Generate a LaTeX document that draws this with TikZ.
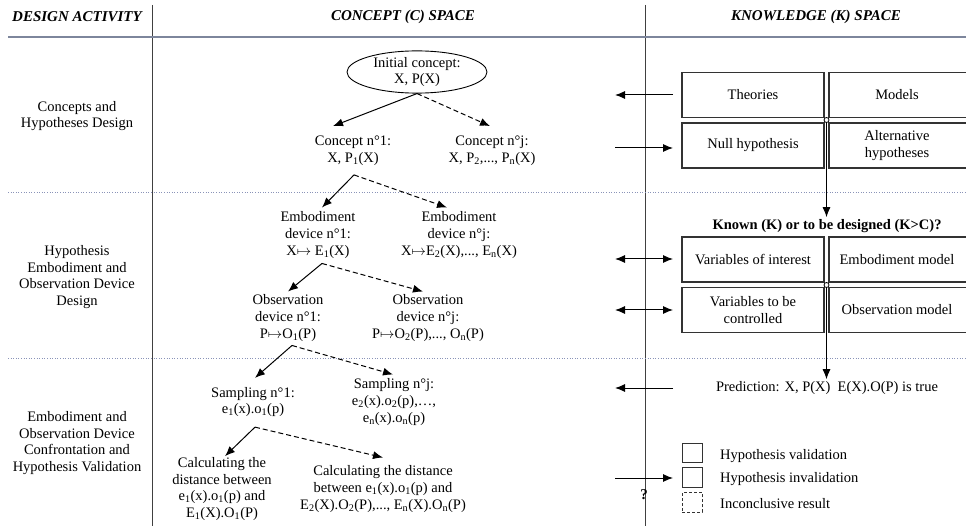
\documentclass[tikz,border=0pt]{standalone}
\usepackage{fontspec}
\setmainfont{Liberation Serif}
\usetikzlibrary{arrows.meta,shapes.geometric,calc}
\newcommand\sbs[1]{\textsubscript{#1}}
\definecolor{hdrline}{HTML}{7D869C}
\definecolor{dotline}{HTML}{8A93B8}
\definecolor{boxline}{HTML}{333333}
\tikzset{
  body/.style={font=\fontsize{14.5}{16.7}\selectfont, align=center, inner sep=0pt},
  hdr/.style={font=\fontsize{15}{17}\selectfont\bfseries\itshape, inner sep=0pt},
  tip/.tip={Latex[length=10pt,width=8pt]},
  arr/.style={line width=1pt, -tip},
  darr/.style={arr, dashed, dash pattern=on 5pt off 3pt},
  kbox/.style={draw=boxline, line width=1.2pt, minimum height=45pt, inner sep=0pt},
  legbox/.style={draw=boxline, line width=1pt, minimum width=20pt, minimum height=19.5pt, inner sep=0pt},
  sep/.style={line width=1pt, black!75},
}
\begin{document}
\begin{tikzpicture}[x=1pt,y=-1pt]
\useasboundingbox (0,0) rectangle (966,526);
\begin{scope}
\clip (0,0) rectangle (966,526);
% frame lines
\draw[sep] (152,5) -- (152,526);
\draw[sep] (645,5) -- (645,526);
\draw[hdrline, line width=2pt] (8,37) -- (966,37);
\draw[dotline, line width=0.9pt, dash pattern=on 1pt off 1.6pt] (8,192) -- (966,192);
\draw[dotline, line width=0.9pt, dash pattern=on 1pt off 1.6pt] (8,358) -- (966,358);

% headers
\node[hdr] (h1) at (77,17) {DESIGN ACTIVITY};
\node[hdr] (h2) at (403,17) {CONCEPT (C) SPACE};
\node[hdr] (h3) at (816,17) {KNOWLEDGE (K) SPACE};

% left column
\node[body] (a1) at (77,116) {Concepts and\\Hypotheses Design};
\node[body] (a2) at (77,277) {Hypothesis\\Embodiment and\\Observation Device\\Design};
\node[body] (a3) at (77,443) {Embodiment and\\Observation Device\\Confrontation and\\Hypothesis Validation};

% concept tree
\node[body, draw, ellipse, line width=0.9pt, minimum width=140pt, minimum height=38pt] (init) at (417,72) {Initial concept:\\X, P(X)};
\node[body] (c1) at (353,151) {Concept n°1:\\X, P\sbs{1}(X)};
\node[body] (cj) at (492,151) {Concept n°j:\\X, P\sbs{2},..., P\sbs{n}(X)};
\node[body] (e1) at (318,235) {Embodiment\\device n°1:\\X$\mapsto$ E\sbs{1}(X)};
\node[body] (ej) at (459,235) {Embodiment\\device n°j:\\X$\mapsto$E\sbs{2}(X),..., E\sbs{n}(X)};
\node[body] (o1) at (288,318) {Observation\\device n°1:\\P$\mapsto$O\sbs{1}(P)};
\node[body] (oj) at (428,318) {Observation\\device n°j:\\P$\mapsto$O\sbs{2}(P),..., O\sbs{n}(P)};
\node[body] (s1) at (253,402) {Sampling n°1:\\e\sbs{1}(x).o\sbs{1}(p)};
\node[body] (sj) at (394,402) {Sampling n°j:\\e\sbs{2}(x).o\sbs{2}(p),…,\\e\sbs{n}(x).o\sbs{n}(p)};
\node[body] (d1) at (222,489) {Calculating the\\distance between\\e\sbs{1}(x).o\sbs{1}(p) and\\E\sbs{1}(X).O\sbs{1}(P)};
\node[body] (dj) at (383,489) {Calculating the distance\\between e\sbs{1}(x).o\sbs{1}(p) and\\E\sbs{2}(X).O\sbs{2}(P),..., E\sbs{n}(X).O\sbs{n}(P)};

\coordinate (pc) at (init.south);
\draw[arr] (pc) -- ($(c1.north)+(-20,-10)$);
\draw[darr] (pc) -- ($(cj.north)+(-2,-10)$);
\coordinate (pe) at ($(c1.south)+(1,9)$);
\draw[arr] (pe) -- ($(e1.north)+(4,-4)$);
\draw[darr] (pe) -- ($(ej.north)+(-12,-4)$);
\coordinate (po) at ($(e1.south)+(4,5)$);
\draw[arr] (po) -- ($(o1.north)+(0,-3)$);
\draw[darr] (po) -- ($(oj.north)+(-5,-3)$);
\coordinate (ps) at ($(o1.south)+(4,4)$);
\draw[arr] (ps) -- ($(s1.north)+(2,-9)$);
\draw[darr] (ps) -- ($(sj.north)+(-1,-4)$);
\coordinate (pd) at ($(s1.south)+(2,10)$);
\draw[arr] (pd) -- ($(d1.north)+(3,-1)$);
\draw[darr] (pd) -- ($(dj.north)+(0,-8)$);

% knowledge side boxes
\node[kbox, minimum width=142pt] (th) at (753,95) {};
\node[body] at (th) {Theories};
\node[kbox, minimum width=170pt] (mo) at (914,95) {};
\node[body] at (897,95) {Models};
\node[kbox, minimum width=142pt] (nh) at (753,145.5) {};
\node[body] at (nh) {Null hypothesis};
\node[kbox, minimum width=170pt] (ah) at (914,145.5) {};
\node[body] at (897,145.5) {Alternative\\hypotheses};

\node[body, font=\fontsize{14.5}{16.7}\selectfont\bfseries] (kq) at (827,226) {Known (K) or to be designed (K>C)?};

\node[kbox, minimum width=142pt] (vi) at (753,259.5) {};
\node[body] at (vi) {Variables of interest};
\node[kbox, minimum width=170pt] (em) at (914,259.5) {};
\node[body] at (897,259.5) {Embodiment model};
\node[kbox, minimum width=142pt] (vc) at (753,310) {};
\node[body] at (vc) {Variables to be\\controlled};
\node[kbox, minimum width=170pt] (om) at (914,310) {};
\node[body] at (897,310) {Observation model};

\node[body] (pr) at (827,388) {Prediction: X, P(X)\ \ E(X).O(P) is true};

% vertical flow lines with junction circles
\node[draw, circle, fill=white, line width=0.8pt, minimum size=5pt, inner sep=0pt] (j1) at (826.5,120) {};
\node[draw, circle, fill=white, line width=0.8pt, minimum size=5pt, inner sep=0pt] (j2) at (826.5,285) {};
\draw[arr] (j1.south) -- ($(kq.north -| j1)+(0,-2)$);
\draw[arr] (j2.south) -- ($(pr.north -| j2)+(0,-2)$);

% horizontal arrows across K border
\coordinate (lA) at (615,95);  \coordinate (rA) at (673,95);
\coordinate (lB) at (615,148); \coordinate (rB) at (673,148);
\coordinate (lC) at (615,259); \coordinate (rC) at (673,259);
\coordinate (lD) at (615,310); \coordinate (rD) at (673,310);
\coordinate (lE) at (615,388); \coordinate (rE) at (673,388);
\coordinate (lF) at (615,478); \coordinate (rF) at (673,478);
\draw[arr] (rA) -- (lA);
\draw[arr] (lB) -- (rB);
\draw[arr, tip-tip] (lC) -- (rC);
\draw[arr, tip-tip] (lD) -- (rD);
\draw[arr] (rE) -- (lE);
\draw[arr] (lF) -- (rF);
\node[font=\fontsize{15}{17}\selectfont\bfseries, inner sep=0pt] (qm) at (644,495) {?};

% legend
\node[legbox] (lg1) at (692,453) {};
\node[legbox] (lg2) at (692,477.5) {};
\node[legbox, dashed, dash pattern=on 3pt off 2pt] (lg3) at (692,502.5) {};
\node[body, anchor=west] (lt1) at (720,456) {Hypothesis validation};
\node[body, anchor=west] (lt2) at (720,479) {Hypothesis invalidation};
\node[body, anchor=west] (lt3) at (720,504) {Inconclusive result};
\end{scope}
\end{tikzpicture}
\end{document}
